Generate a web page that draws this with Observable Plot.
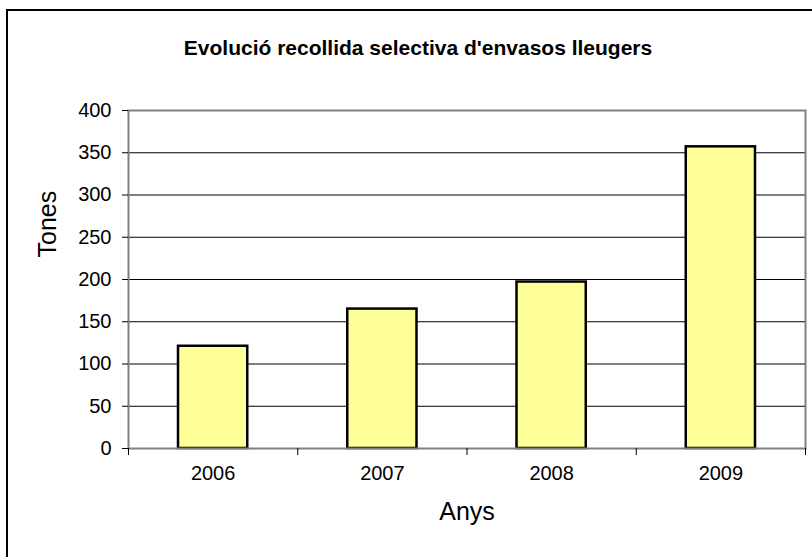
<!DOCTYPE html>
<html>
<head>
<meta charset="utf-8">
<script src="https://cdn.jsdelivr.net/npm/d3@7"></script>
<script src="https://cdn.jsdelivr.net/npm/@observablehq/plot@0.6"></script>
<style>
  html, body { margin: 0; padding: 0; background: #fff; overflow: hidden; }
  #wrap { position: relative; width: 812px; height: 557px; overflow: hidden; }
  #outer { position: absolute; left: 6px; top: 9px; width: 900px; height: 700px;
           border-left: 2px solid #000; border-top: 2px solid #000; }
  #chart { position: absolute; left: 0; top: 0; }
</style>
</head>
<body>
<div id="wrap"><div id="outer"></div><div id="chart"></div></div>
<script>
const title = "Evolució recollida selectiva d'envasos lleugers";
const years = ["2006", "2007", "2008", "2009"];
const tones = [121, 165, 197, 357];
const yTicks = [0, 50, 100, 150, 200, 250, 300, 350, 400];
const xLabel = "Anys";
const yLabel = "Tones";

const data = years.map((year, i) => ({year, value: tones[i], i}));
const boundaries = d3.range(years.length + 1);

const chart = Plot.plot({
  width: 812,
  height: 557,
  marginLeft: 128,
  marginRight: 7,
  marginTop: 110,
  marginBottom: 109,
  style: {fontFamily: "'Liberation Sans', Arial, sans-serif", fontSize: "20px", color: "#000", background: "transparent"},
  x: {type: "linear", domain: [0, years.length]},
  y: {domain: [0, 400]},
  marks: [
    Plot.gridY(yTicks.filter(t => t > 0 && t < 400), {stroke: "#000", strokeOpacity: 1, strokeWidth: 1}),
    Plot.rectY(data, {x1: d => d.i, x2: d => d.i + 1, y1: 0, y2: "value", insetLeft: 50, insetRight: 50,
      fill: "#FFFF99", stroke: "#000", strokeWidth: 2.5}),
    Plot.frame({stroke: "#808080", strokeWidth: 2}),
    Plot.axisY({ticks: yTicks, tickSize: 6, tickPadding: 11, label: null, fontSize: 20, stroke: "#000"}),
    Plot.axisX({ticks: boundaries, tickSize: 7, tickFormat: () => "", label: null, stroke: "#000"}),
    Plot.text(data, {x: d => d.i + 0.5, text: "year", frameAnchor: "bottom", dy: 31, fontSize: 20, fill: "#000"}),
    Plot.text([xLabel], {frameAnchor: "bottom", dy: 71, fontSize: 25, fill: "#000"}),
    Plot.text([yLabel], {frameAnchor: "left", rotate: -90, dx: -81, dy: -22, fontSize: 25, fill: "#000"}),
    Plot.text([title], {frameAnchor: "top", dx: -49, dy: -70, fontSize: 21, fontWeight: "bold", fill: "#000"})
  ]
});
document.getElementById("chart").appendChild(chart);
</script>
</body>
</html>
